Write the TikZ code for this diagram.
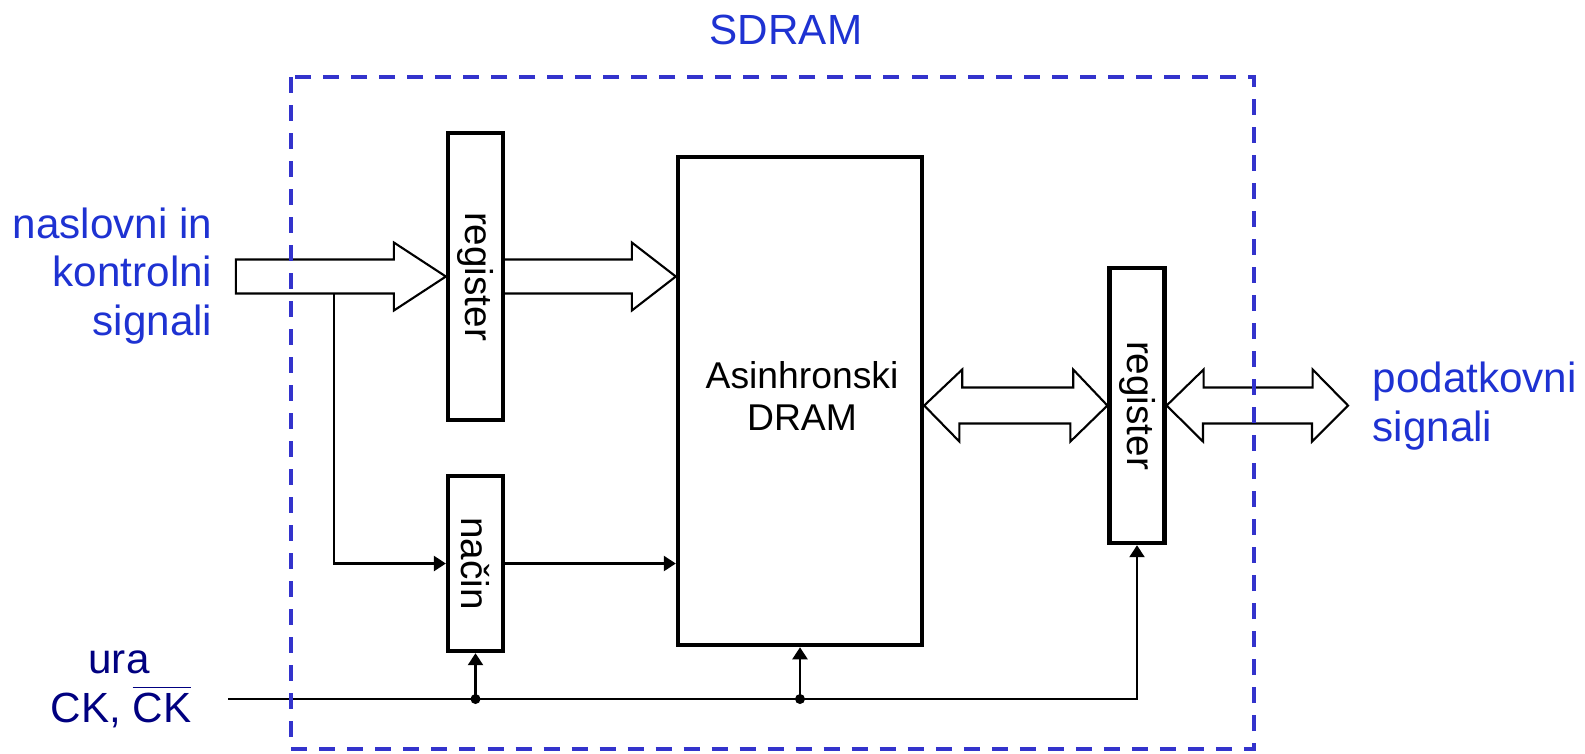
\documentclass[tikz,border=0pt]{standalone}
\usepackage{fontspec}
\setmainfont{Liberation Sans}
\usepackage{graphicx}
\usetikzlibrary{arrows.meta,backgrounds}
\definecolor{azul}{RGB}{51,51,204}
\definecolor{azultexto}{RGB}{30,50,210}
\definecolor{marino}{RGB}{0,0,128}

\begin{document}
\begin{tikzpicture}[x=0.01cm, y=-0.01cm,
        caja/.style={draw, line width=1.2pt, fill=white, inner sep=0pt},
        bus/.style={draw, line width=0.6pt, fill=white, line join=miter},
        senal/.style={line width=0.65pt, -{Triangle[length=0.12cm, width=0.15cm]}},
        etiqueta/.style={inner sep=0pt, font=\fontsize{12}{13.8}\selectfont, text=azultexto}]
        \useasboundingbox (0,0) rectangle (1585,753);

        % Bloques
        \node[caja, minimum width=0.55cm, minimum height=2.87cm] (reg1) at (475.5,276.5) {\rotatebox{-90}{\fontsize{11}{11}\selectfont register}};
        \node[caja, minimum width=0.55cm, minimum height=1.75cm] (nacin) at (475.5,563.5) {\rotatebox{-90}{\fontsize{11}{11}\selectfont način}};
        \node[caja, minimum width=2.44cm, minimum height=4.88cm] (dram) at (800,401) {};
        \node[caja, minimum width=0.55cm, minimum height=2.75cm] (reg2) at (1137,405.5) {\rotatebox{-90}{\fontsize{11}{11}\selectfont register}};
        \node[align=center, inner sep=0pt, font=\fontsize{10.6}{12.2}\selectfont] (dramtxt) at (802,396) {Asinhronski\\DRAM};

        % Puntos auxiliares
        \coordinate (datos) at (1348,405.5);
        \coordinate (rama) at (334,293.5);
        \coordinate (ura0) at (228,699);
        \coordinate (j1) at (nacin.south |- ura0);
        \coordinate (j2) at (dram.south |- ura0);

        % Buses
        \begin{scope}[on background layer]
            \draw[bus] (reg1.west) -- ++(-52,-34) -- ++(0,17) -- ++(-158,0) -- ++(0,34) -- ++(158,0) -- ++(0,17) -- cycle;
            \draw[bus] (dram.west |- reg1.west) -- ++(-44,-34) -- ++(0,17) -- ++(-131,0) -- ++(0,34) -- ++(131,0) -- ++(0,17) -- cycle;
            \draw[bus] (dram.east |- reg2.west) -- ++(38,-36) -- ++(0,18) -- ++(111,0) -- ++(0,-18) -- (reg2.west) -- ++(-37,36) -- ++(0,-18) -- ++(-111,0) -- ++(0,18) -- cycle;
            \draw[bus] (reg2.east) -- ++(37,-36) -- ++(0,18) -- ++(109,0) -- ++(0,-18) -- (datos) -- ++(-36,36) -- ++(0,-18) -- ++(-109,0) -- ++(0,18) -- cycle;
        \end{scope}

        % Senales
        \draw[senal] (rama) |- (nacin.west);
        \draw[senal] (nacin.east) -- (nacin.east -| dram.west);
        \draw[senal] (ura0) -| (reg2.south);
        \draw[senal] (j1) -- (nacin.south);
        \draw[senal] (j2) -- (dram.south);
        \fill (j1) circle[radius=5];
        \fill (j2) circle[radius=5];

        % Textos
        \node[etiqueta] (titulo) at (786,30) {SDRAM};
        \node[etiqueta, align=right, anchor=east] (naslov) at (213,276) {naslovni in\\kontrolni\\signali};
        \node[etiqueta, align=left, anchor=west] (podatki) at (1372,406) {podatkovni\\signali};
        \node[etiqueta, text=marino, anchor=base] (ura) at (119,673) {ura};
        \node[etiqueta, text=marino, anchor=base] (ck) at (121,722) {CK, $\overline{\mbox{CK}}$};

        % Marco SDRAM
        \draw[azul, line width=1.1pt, dash pattern=on 0.16cm off 0.12cm] (291,77) rectangle (1254,749);

    \end{tikzpicture}
\end{document}
